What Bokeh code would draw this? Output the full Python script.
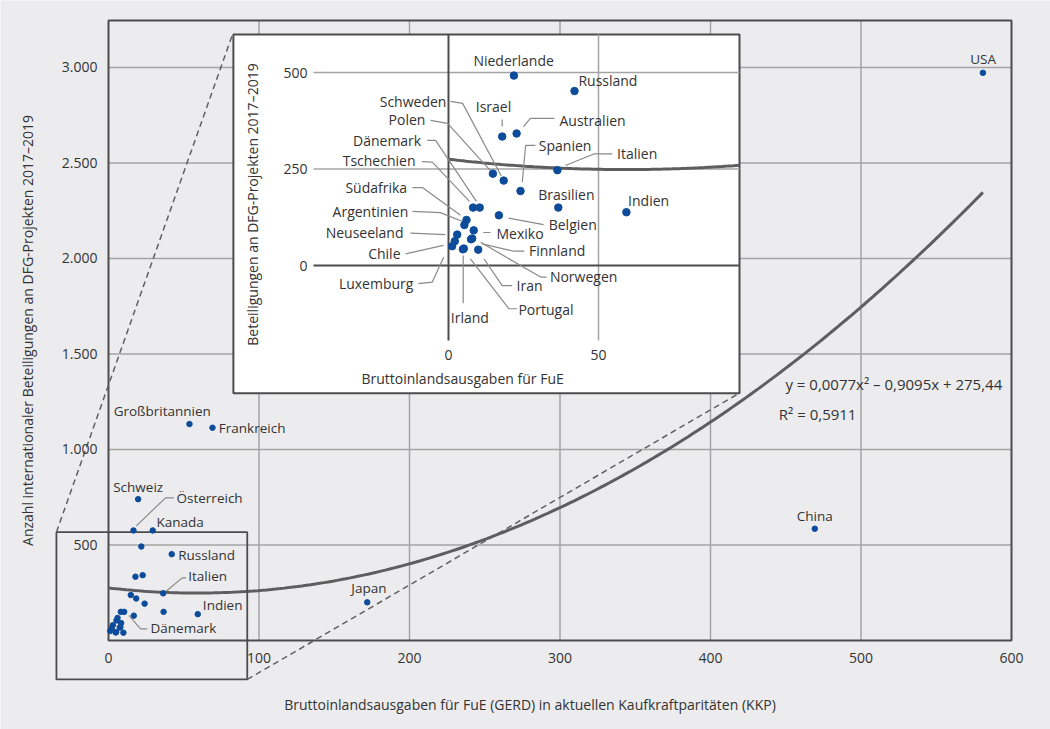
import numpy as np
from bokeh.plotting import figure
from bokeh.models import Range1d, FixedTicker
from bokeh.core.properties import value
from bokeh.embed import file_html
from bokeh.resources import INLINE

# ---------------- data ----------------
countries = ["USA", "China", "Japan", "Großbritannien", "Frankreich", "Schweiz",
             "Österreich", "Kanada", "Niederlande", "Russland", "Israel", "Australien",
             "Schweden", "Polen", "Spanien", "Italien", "Brasilien", "Indien", "Belgien",
             "Dänemark", "Tschechien", "Südafrika", "Argentinien", "Mexiko", "Neuseeland",
             "Finnland", "Norwegen", "Chile", "Luxemburg", "Irland", "Portugal", "Iran"]
gerd = [581.0, 469.3, 171.9, 53.8, 69.1, 19.7,
        16.6, 29.4, 21.8, 42.0, 17.9, 22.7,
        18.4, 14.8, 24.0, 36.3, 36.6, 59.3, 16.8,
        10.4, 8.2, 6.0, 5.3, 8.4, 2.9,
        7.5, 7.9, 2.1, 1.2, 4.8, 5.1, 9.9]
dfg = [2972, 585, 200, 1133, 1114, 740,
       576, 576, 492, 452, 334, 342,
       220, 238, 193, 247, 150, 138, 130,
       150, 150, 118, 105, 91, 80,
       68, 70, 63, 50, 42, 44, 41]

trend_coef = [0.0077, -0.9095, 275.44]   # y = a x^2 + b x + c (as printed in the chart)
equation_text = "y = 0,0077x² – 0,9095x + 275,44"
r2_text = "R² = 0,5911"

x_ticks = [0, 100, 200, 300, 400, 500, 600]
y_ticks = [500, 1000, 1500, 2000, 2500, 3000]
y_tick_labels = ["500", "1.000", "1.500", "2.000", "2.500", "3.000"]
x_max, y_max = 600, 3246

inset_x_ticks = [0, 50]
inset_y_ticks = [0, 250, 500]

x_title = "Bruttoinlandsausgaben für FuE (GERD) in aktuellen Kaufkraftparitäten (KKP)"
y_title = "Anzahl internationaler Beteiligungen an DFG-Projekten 2017–2019"
inset_x_title = "Bruttoinlandsausgaben für FuE"
inset_y_title = "Beteiligungen an DFG-Projekten 2017–2019"

# ---------------- layout / style ----------------
W, H = 1050, 729
FONT = "Open Sans"
TXT = "#333333"
DOT = "#0d4c9b"
BG = "#ececee"
GRID = "#a4a4a4"
DARK = "#4c4c4c"

# pixel box of the main plot area (left, right, bottom, top)
MAIN_PX = (108, 1011, 640, 20)
sx = (MAIN_PX[1] - MAIN_PX[0]) / x_max
sy = (MAIN_PX[2] - MAIN_PX[3]) / y_max
MAIN_X_RANGE = (-MAIN_PX[0] / sx, x_max + (W - MAIN_PX[1]) / sx)
MAIN_Y_RANGE = (-(H - MAIN_PX[2]) / sy, y_max + MAIN_PX[3] / sy)

# inset: pixel position of its origin and pixels per unit
INSET_ORIGIN = (448, 265)
INSET_SCALE = (3.0, 0.386)
INSET_X_RANGE = (-INSET_ORIGIN[0] / INSET_SCALE[0], (W - INSET_ORIGIN[0]) / INSET_SCALE[0])
INSET_Y_RANGE = (-(H - INSET_ORIGIN[1]) / INSET_SCALE[1], INSET_ORIGIN[1] / INSET_SCALE[1])

INSET_MAX_X, INSET_MAX_Y = 95, 500
INSET_BOX = (-71.7, 97.0, -330.8, 598.4)      # left, right, bottom, top (inset units)
INSET_PLOT = (-45.0, 97.0, -194.0, 598.4)
ZOOM_BOX = (-34.6, 92.2, -204.0, 567.0)        # main units
DASH_1 = ((-34.6, 567.0), (82.4, 3173.0))
DASH_2 = ((92.2, -204.0), (419.3, 1296.0))

main_labels = {
    "USA": (581.1, 3046, "center"), "China": (469.3, 654, "center"),
    "Japan": (173.0, 276, "center"), "Großbritannien": (35.7, 1200, "center"),
    "Frankreich": (73.3, 1112, "left"), "Schweiz": (19.7, 803, "center"),
    "Österreich": (45.2, 747, "left"), "Kanada": (31.9, 619, "left"),
    "Russland": (46.3, 450, "left"), "Italien": (53.0, 337, "left"),
    "Indien": (62.7, 187, "left"), "Dänemark": (27.9, 64, "left"),
}
main_leaders = {
    "Österreich": [(18.5, 600), (37.9, 747), (43.4, 747)],
    "Italien": [(38.3, 258), (49.0, 328), (51.5, 328)],
    "Dänemark": [(13.5, 131), (21.3, 61), (25.7, 61)],
}
inset_labels = {
    "Niederlande": (21.7, 531, "center"), "Russland": (43.3, 479, "left"),
    "Israel": (15.0, 412, "center"), "Australien": (37.0, 376, "left"),
    "Spanien": (30.1, 311, "left"), "Italien": (56.2, 291, "left"),
    "Brasilien": (39.3, 184, "center"), "Indien": (66.7, 168, "center"),
    "Belgien": (33.4, 106, "left"), "Mexiko": (16.0, 84, "left"),
    "Finnland": (26.8, 39, "left"), "Norwegen": (33.8, -28.5, "left"),
    "Iran": (22.7, -52, "left"), "Portugal": (23.3, -115, "left"),
    "Irland": (7.1, -135.5, "center"), "Luxemburg": (-11.7, -47, "right"),
    "Chile": (-16.0, 32, "right"), "Neuseeland": (-15.0, 85, "right"),
    "Argentinien": (-13.4, 140, "right"), "Südafrika": (-13.8, 201, "right"),
    "Tschechien": (-11.0, 272, "right"), "Dänemark": (-9.1, 324, "right"),
    "Polen": (-7.7, 377.5, "right"), "Schweden": (-0.7, 425.6, "right"),
}
inset_leaders = {
    "Israel": [(17.9, 378), (17.9, 360)],
    "Australien": [(25.0, 360), (27.3, 381), (35.3, 381)],
    "Spanien": [(24.6, 216), (25.7, 311), (29.0, 311)],
    "Italien": [(39.0, 259), (48.4, 289), (54.6, 289)],
    "Belgien": [(20.0, 122.5), (31.7, 106)],
    "Mexiko": [(11.6, 85.5), (14.0, 85.5)],
    "Finnland": [(11.2, 56), (21.8, 37), (25.3, 37)],
    "Norwegen": [(10.7, 60), (30.7, -30), (32.7, -30)],
    "Iran": [(11.8, 17.4), (17.9, -52), (21.2, -52)],
    "Portugal": [(7.3, 17.4), (20.1, -112), (22.9, -112)],
    "Irland": [(4.9, 26), (4.9, -98)],
    "Luxemburg": [(-10.0, -47), (-5.4, -43), (-1.6, 21.5)],
    "Chile": [(-14.3, 30), (-1.7, 52)],
    "Neuseeland": [(-12.7, 84), (-1.0, 80)],
    "Argentinien": [(-12.0, 140), (-2.7, 137), (4.7, 114)],
    "Südafrika": [(-12.0, 202), (-8.7, 202), (4.0, 130)],
    "Tschechien": [(-8.8, 269), (-5.4, 268), (7.0, 166)],
    "Dänemark": [(-7.1, 324), (-4.3, 324), (9.3, 166)],
    "Polen": [(-6.0, 376), (-0.3, 368), (13.8, 247)],
    "Schweden": [(0.7, 425), (4.7, 420), (17.6, 232)],
}

# ---------------- figure ----------------
p = figure(width=W, height=H, x_range=Range1d(*MAIN_X_RANGE), y_range=Range1d(*MAIN_Y_RANGE),
           output_backend="svg", toolbar_location=None,
           min_border_left=0, min_border_right=0, min_border_top=0, min_border_bottom=0)
p.extra_x_ranges = {"ix": Range1d(*INSET_X_RANGE)}
p.extra_y_ranges = {"iy": Range1d(*INSET_Y_RANGE)}
p.background_fill_color = BG
p.border_fill_color = BG
p.outline_line_color = None
p.grid.visible = False

# axes drawn at the data origin (take no side space)
p.xaxis.fixed_location = 0
p.yaxis.fixed_location = 0
p.xaxis.bounds = (-40, x_max)
p.yaxis.bounds = (0, y_max)
p.xaxis.ticker = FixedTicker(ticks=x_ticks)
p.yaxis.ticker = FixedTicker(ticks=y_ticks)
p.yaxis.major_label_overrides = {t: s for t, s in zip(y_ticks, y_tick_labels)}
for ax in (p.xaxis, p.yaxis):
    ax.axis_line_color = None
    ax.major_tick_line_color = None
    ax.minor_tick_line_color = None
    ax.major_label_text_font = FONT
    ax.major_label_text_font_size = "14px"
    ax.major_label_text_color = TXT
    ax.axis_label_text_font = FONT
    ax.axis_label_text_font_size = "14px"
    ax.axis_label_text_font_style = "normal"
    ax.axis_label_text_color = TXT
p.xaxis.axis_label = x_title
p.yaxis.axis_label = y_title
p.xaxis.major_label_standoff = 6
p.yaxis.major_label_standoff = 5
p.xaxis.axis_label_standoff = 29
p.yaxis.axis_label_standoff = 22

# main grid lines (limited to plot area)
gxs = [[t, t] for t in x_ticks if 0 < t < x_max] + [[0, x_max] for t in y_ticks]
gys = [[0, y_max] for t in x_ticks if 0 < t < x_max] + [[t, t] for t in y_ticks]
p.multi_line(gxs, gys, line_color=GRID, line_width=1.5)
# plot area frame
p.quad(left=[0], right=[x_max], bottom=[0], top=[y_max], fill_alpha=0,
       line_color=DARK, line_width=2)

# main trend
xs_main = np.linspace(0, gerd[0], 200)
p.line(xs_main, np.polyval(trend_coef, xs_main), line_color="#5e5e5e", line_width=3)

# zoom box + connector lines
zx0, zx1, zy0, zy1 = ZOOM_BOX
p.quad(left=[zx0], right=[zx1], bottom=[zy0], top=[zy1], fill_alpha=0,
       line_color=DARK, line_width=1.8)
p.multi_line([[a[0], b[0]] for a, b in (DASH_1, DASH_2)],
             [[a[1], b[1]] for a, b in (DASH_1, DASH_2)],
             line_color="#606060", line_width=1.5, line_dash="6 4")

# main points
p.scatter(gerd, dfg, size=5.5, color=DOT)

# main labels
idx = {c: i for i, c in enumerate(countries)}
for align in ("left", "center", "right"):
    names = [n for n, v in main_labels.items() if v[2] == align]
    if names:
        p.text(x=[main_labels[n][0] for n in names], y=[main_labels[n][1] for n in names],
               text=names, text_align=align, text_baseline="middle",
               text_font=value(FONT), text_font_size="13.5px", text_color=TXT)
p.multi_line([[pt[0] for pt in v] for v in main_leaders.values()],
             [[pt[1] for pt in v] for v in main_leaders.values()],
             line_color="#8a8a8a", line_width=1.2)

p.text(x=[449.8, 445.4], y=[1344, 1187], text=[equation_text, r2_text], text_align="left",
       text_baseline="middle", text_font=value(FONT), text_font_size="15px", text_color=TXT)

# ---------------- inset ----------------
R = dict(x_range_name="ix", y_range_name="iy")
bl, br, bb, bt = INSET_BOX
p.quad(left=[bl], right=[br], bottom=[bb], top=[bt], fill_color="white",
       line_color=DARK, line_width=2, **R)
pl, pr, pb, pt_ = INSET_PLOT
gx = [[pl, pr] for t in inset_y_ticks if t != 0] + [[t, t] for t in inset_x_ticks if t != 0]
gy = [[t, t] for t in inset_y_ticks if t != 0] + [[pb, pt_] for t in inset_x_ticks if t != 0]
p.multi_line(gx, gy, line_color=GRID, line_width=1.5, **R)
p.multi_line([[pl, pr], [0, 0]], [[0, 0], [pb, pt_]], line_color=DARK, line_width=2, **R)

xs_in = np.linspace(0, pr, 100)
p.line(xs_in, np.polyval(trend_coef, xs_in), line_color="#5e5e5e", line_width=3, **R)

in_names = [c for c, x, y in zip(countries, gerd, dfg) if x <= INSET_MAX_X and y <= INSET_MAX_Y]
p.multi_line([[pt[0] for pt in v] for v in inset_leaders.values()],
             [[pt[1] for pt in v] for v in inset_leaders.values()],
             line_color="#8a8a8a", line_width=1.2, **R)
p.scatter([gerd[idx[n]] for n in in_names], [dfg[idx[n]] for n in in_names],
          size=7.5, color=DOT, **R)
for align in ("left", "center", "right"):
    names = [n for n, v in inset_labels.items() if v[2] == align]
    p.text(x=[inset_labels[n][0] for n in names], y=[inset_labels[n][1] for n in names],
           text=names, text_align=align, text_baseline="middle",
           text_font=value(FONT), text_font_size="14px", text_color=TXT, **R)

# inset tick labels and titles
p.text(x=[pl - 2] * len(inset_y_ticks), y=inset_y_ticks, text=[str(t) for t in inset_y_ticks],
       text_align="right", text_baseline="middle", text_font=value(FONT),
       text_font_size="14px", text_color=TXT, **R)
p.text(x=inset_x_ticks, y=[-233] * len(inset_x_ticks), text=[str(t) for t in inset_x_ticks],
       text_align="center", text_baseline="middle", text_font=value(FONT),
       text_font_size="14px", text_color=TXT, **R)
p.text(x=[4.7], y=[-292.7], text=[inset_x_title], text_align="center", text_baseline="middle",
       text_font=value(FONT), text_font_size="14px", text_color=TXT, **R)
p.text(x=[-65.3], y=[158], text=[inset_y_title], angle=np.pi / 2, text_align="center",
       text_baseline="middle", text_font=value(FONT), text_font_size="14px", text_color=TXT, **R)

open("out.html", "w").write(file_html(p, INLINE))
